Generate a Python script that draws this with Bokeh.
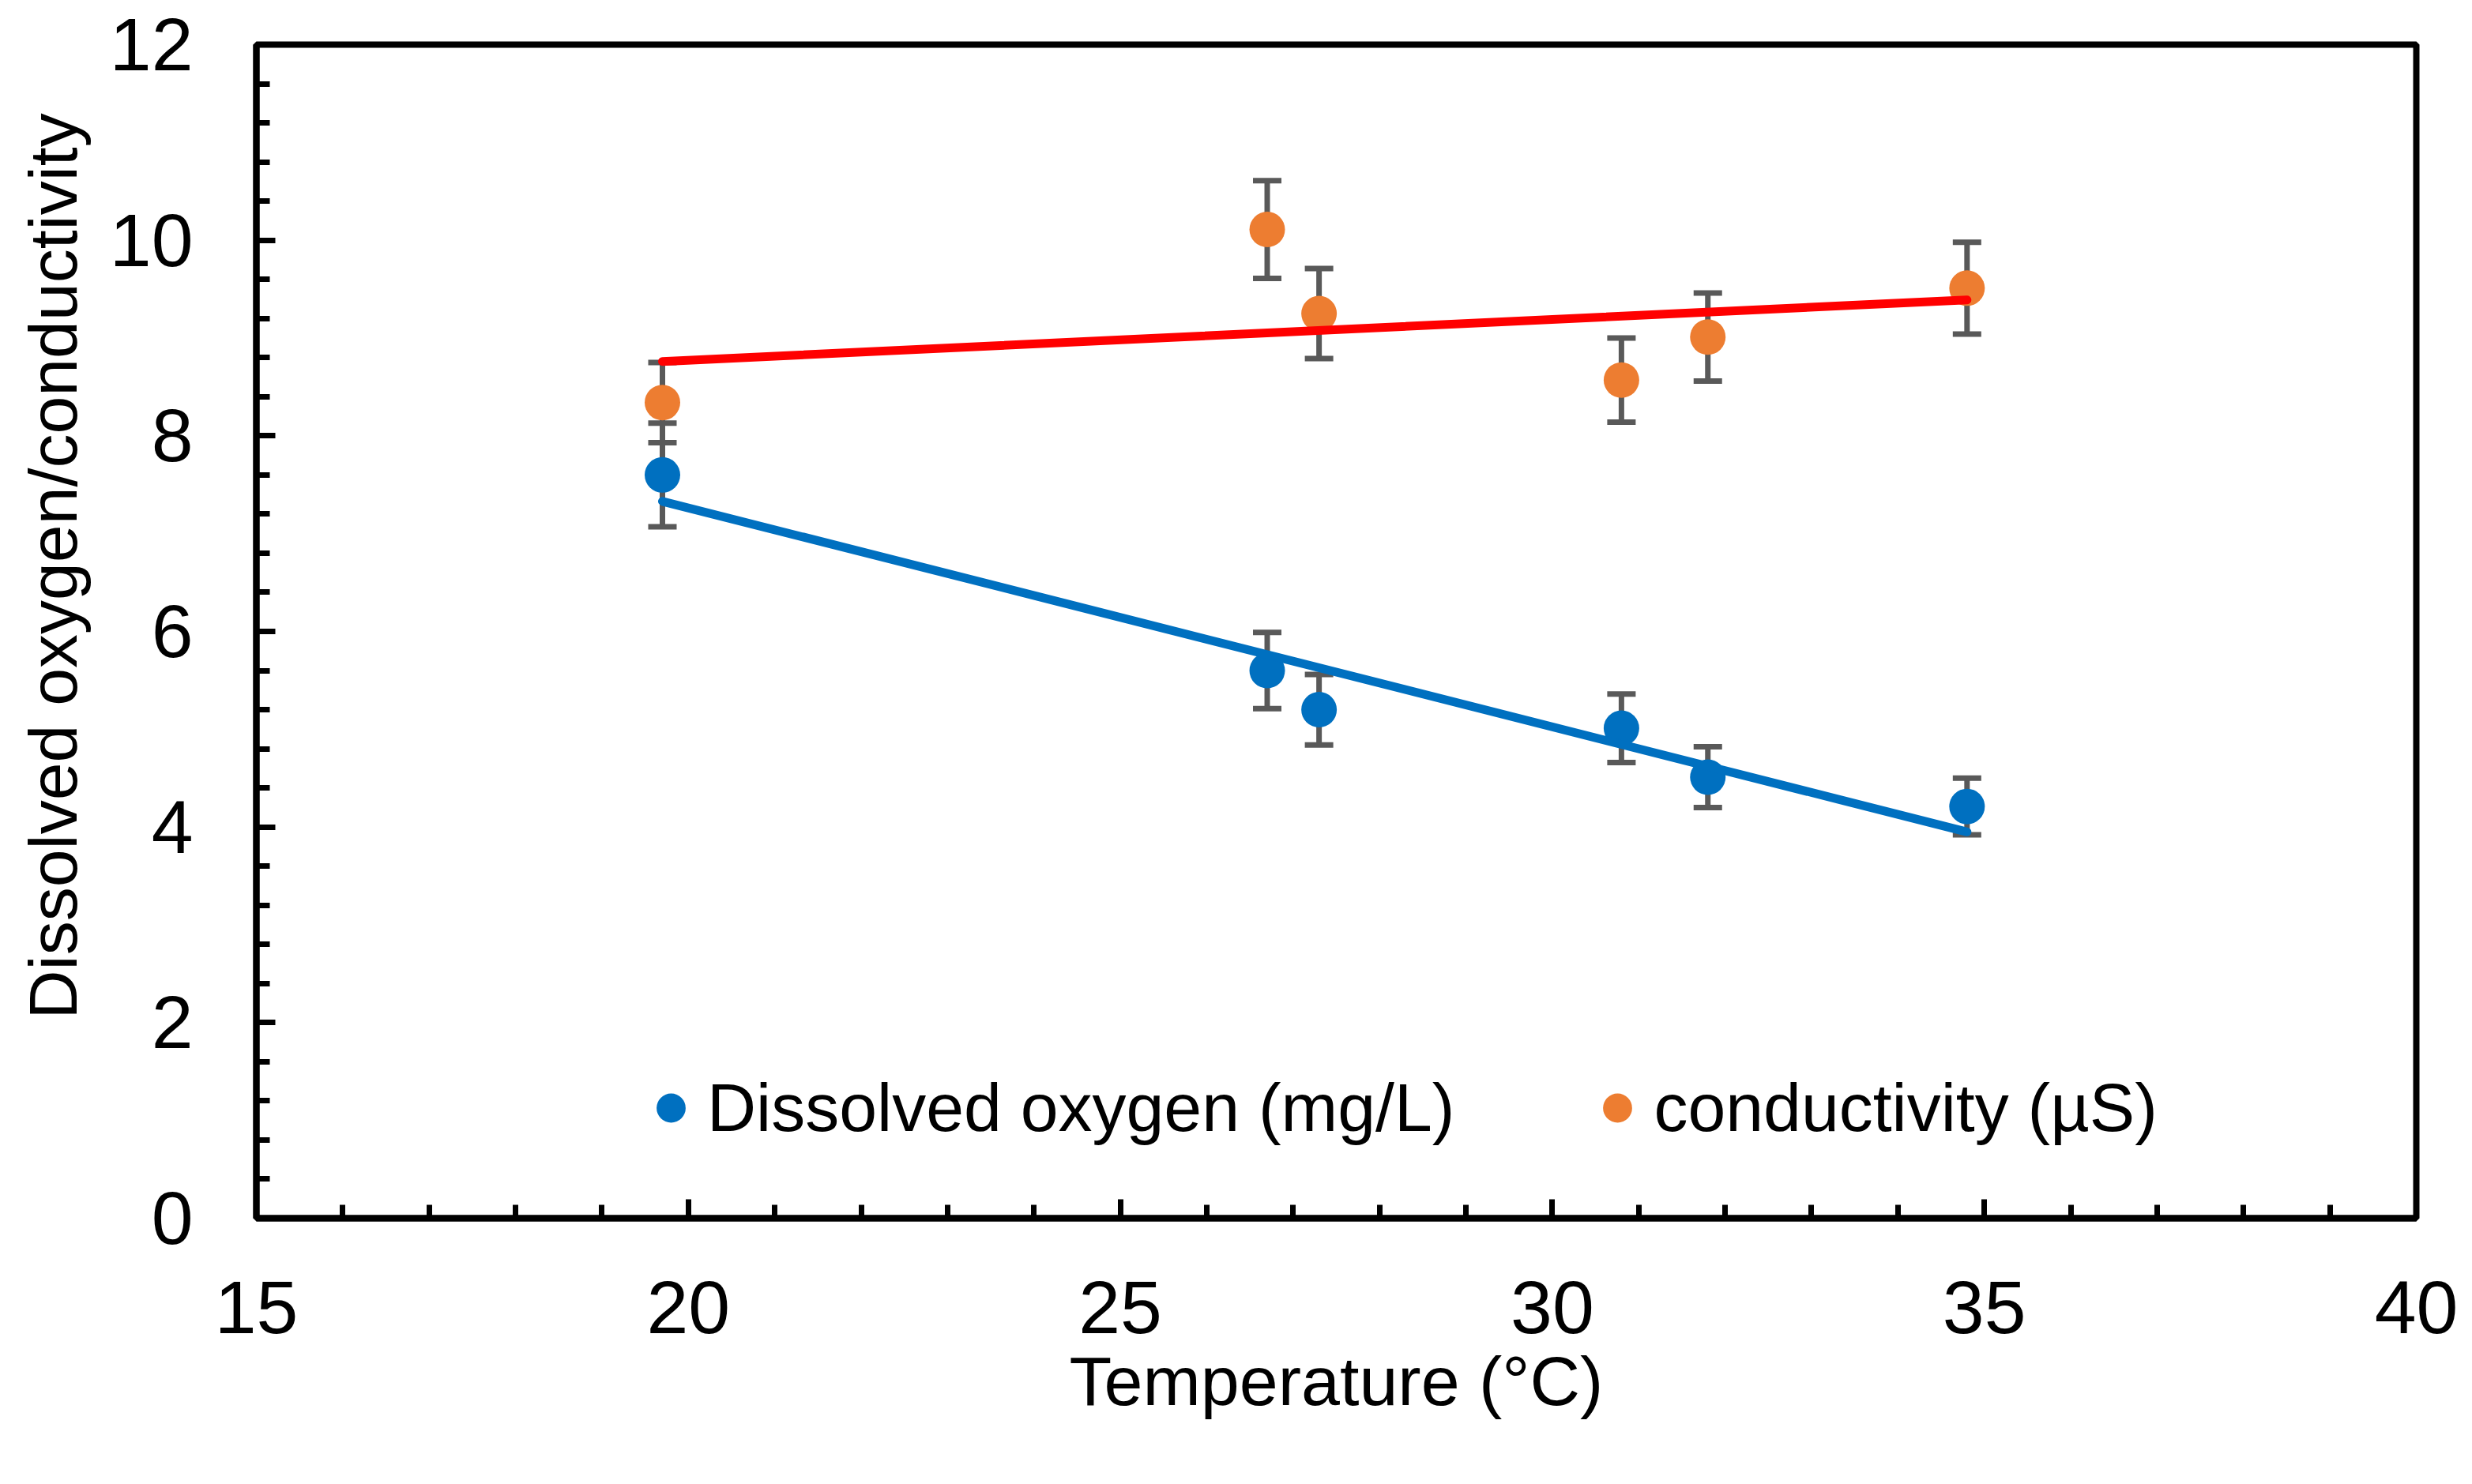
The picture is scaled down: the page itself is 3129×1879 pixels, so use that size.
from bokeh.plotting import figure
from bokeh.models import (Range1d, SingleIntervalTicker, Whisker, TeeHead,
                          ColumnDataSource, Legend, LegendItem, Title)
from bokeh.embed import file_html
from bokeh.resources import INLINE

# ---- data ----
temperature = [19.7, 26.7, 27.3, 30.8, 31.8, 34.8]
dissolved_oxygen = [7.60, 5.60, 5.20, 5.01, 4.51, 4.21]
do_error = [0.53, 0.39, 0.36, 0.35, 0.31, 0.29]
conductivity = [8.34, 10.11, 9.25, 8.57, 9.01, 9.51]
cond_error = [0.41, 0.50, 0.46, 0.43, 0.45, 0.47]
trend_x = [19.7, 34.8]
do_trend = [7.33, 3.95]
cond_trend = [8.76, 9.39]
series_labels = ["Dissolved oxygen (mg/L)", "conductivity (\u00b5S)"]
x_title = "Temperature (\u00b0C)"
y_title = "Dissolved oxygen/conductivity"

BLUE = "#0070C0"
ORANGE = "#ED7D31"
RED = "#FF0000"
ERR = "#595959"
FONT = "Liberation Sans"

src = ColumnDataSource(dict(
    x=temperature,
    do=dissolved_oxygen,
    do_up=[v + e for v, e in zip(dissolved_oxygen, do_error)],
    do_lo=[v - e for v, e in zip(dissolved_oxygen, do_error)],
    c=conductivity,
    c_up=[v + e for v, e in zip(conductivity, cond_error)],
    c_lo=[v - e for v, e in zip(conductivity, cond_error)],
))

p = figure(width=3113, height=1863, x_range=Range1d(15, 40), y_range=Range1d(0, 12),
           output_backend="svg", toolbar_location=None,
           min_border_left=319, min_border_right=55, min_border_top=56, min_border_bottom=321)
p.grid.visible = False
p.outline_line_color = "black"
p.outline_line_width = 8
p.background_fill_color = "white"
p.border_fill_color = "white"

p.xaxis.ticker = SingleIntervalTicker(interval=5, num_minor_ticks=5)
p.yaxis.ticker = SingleIntervalTicker(interval=2, num_minor_ticks=5)
for ax in (p.xaxis, p.yaxis):
    ax.axis_line_width = 8
    ax.axis_line_color = "black"
    ax.major_tick_in = 24
    ax.major_tick_out = 0
    ax.minor_tick_in = 17
    ax.minor_tick_out = 0
    ax.major_tick_line_width = 7
    ax.minor_tick_line_width = 7
    ax.major_tick_line_color = "black"
    ax.minor_tick_line_color = "black"
    ax.major_label_text_font = FONT
    ax.major_label_text_font_size = "95px"
    ax.major_label_text_color = "black"
    ax.axis_label_text_font = FONT
    ax.axis_label_text_font_style = "normal"
    ax.axis_label_text_color = "black"

p.xaxis.major_label_standoff = 80
p.yaxis.major_label_standoff = 80
p.xaxis.axis_label = x_title
p.xaxis.axis_label_text_font_size = "88px"
p.xaxis.axis_label_standoff = 8

# y-axis title as a side-panel title so it can sit above the frame's centre like the reference
ytitle = Title(text=y_title, align="left", offset=252, vertical_align="top", standoff=37,
               text_font=FONT, text_font_size="86px", text_font_style="normal",
               text_color="black")
p.add_layout(ytitle, "left")

# error bars (behind markers)
for up, lo in (("do_up", "do_lo"), ("c_up", "c_lo")):
    w = Whisker(base="x", upper=up, lower=lo, source=src, level="underlay",
                line_color=ERR, line_width=7,
                upper_head=TeeHead(size=36, line_color=ERR, line_width=7),
                lower_head=TeeHead(size=36, line_color=ERR, line_width=7))
    p.add_layout(w)

r_do = p.scatter("x", "do", source=src, size=45, fill_color=BLUE, line_color=BLUE, line_width=0)
r_c = p.scatter("x", "c", source=src, size=45, fill_color=ORANGE, line_color=ORANGE, line_width=0)

p.line(trend_x, do_trend, line_color=BLUE, line_width=11, line_cap="round")
p.line(trend_x, cond_trend, line_color=RED, line_width=11, line_cap="round")

legend = Legend(items=[LegendItem(label=series_labels[0], renderers=[r_do]),
                       LegendItem(label=series_labels[1], renderers=[r_c])],
                orientation="horizontal", location=(479, 87),
                glyph_width=92, glyph_height=105, label_standoff=0, spacing=160,
                padding=0, margin=0, border_line_alpha=0, background_fill_alpha=0,
                label_text_font=FONT, label_text_font_size="86px", label_text_color="black")
p.add_layout(legend)

open("out.html", "w").write(file_html(p, INLINE))
